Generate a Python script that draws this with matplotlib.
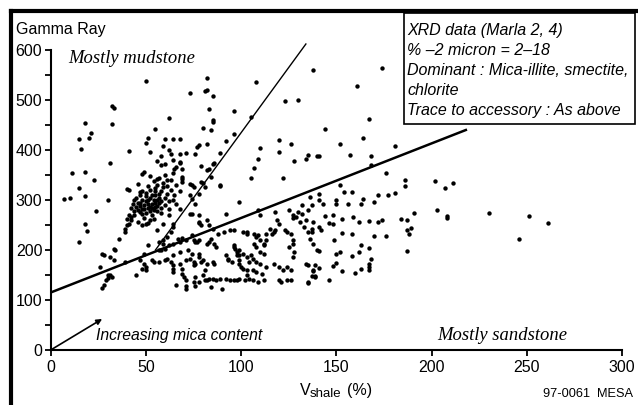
import numpy as np
import matplotlib
matplotlib.use("Agg")
import matplotlib.pyplot as plt
from matplotlib.lines import Line2D
from matplotlib.patches import Rectangle

# --- data: (V shale %, gamma ray API) ---
upper_left_pts = [
    (50, 539), (82, 545), (81, 519), (82, 521), (73, 515), (85, 509), (32, 489), (33, 484),
    (62, 464), (83, 482), (96, 478), (85, 461), (85, 457), (80, 445), (84, 440), (18, 455),
    (32, 453), (21, 435), (20, 425), (15, 422), (16, 402), (11, 355), (18, 357), (23, 341),
    (15, 325), (18, 308), (31, 374), (41, 398), (40, 323), (41, 320), (30, 300), (7, 302),
    (10, 305),
]
cluster_top_pts = [
    (55, 443), (51, 425), (50, 415), (52, 397), (60, 423), (64, 423), (68, 423), (59, 408),
    (62, 401), (63, 393), (58, 389), (64, 381), (56, 379), (58, 371), (60, 373), (65, 363),
    (49, 357), (52, 348), (56, 343), (48, 353), (46, 333), (47, 317), (64, 355), (69, 343),
    (69, 337), (61, 340), (68, 392), (68, 377), (68, 375), (66, 367), (69, 362), (71, 395),
    (69, 347),
]
cluster_pts = [
    (44, 300), (46, 295), (47, 288), (48, 282), (49, 290), (50, 298), (51, 285), (52, 278),
    (53, 292), (54, 300), (55, 286), (50, 275), (48, 272), (46, 280), (45, 287), (52, 305),
    (55, 310), (57, 295), (58, 285), (56, 278), (53, 270), (49, 265), (47, 310), (50, 315),
    (52, 320), (55, 325), (58, 318), (60, 305), (62, 298), (60, 290), (62, 282), (58, 275),
    (54, 262), (51, 255), (56, 330), (59, 335), (61, 328), (63, 320), (65, 310), (64, 300),
    (66, 292), (44, 278), (43, 292), (45, 305), (48, 318), (51, 328), (54, 338), (57, 345),
    (60, 350), (63, 340), (66, 330), (68, 318), (48, 300), (51, 292), (53, 284), (56, 300),
    (57, 312), (42, 285), (41, 270), (40, 262), (47, 295), (49, 283), (51, 300), (53, 310),
    (55, 295), (56, 288), (58, 298), (50, 308), (52, 287), (54, 280), (47, 276), (55, 318),
    (59, 327), (61, 313), (57, 305),
]
between_lines_pts = [
    (77, 407), (78, 410), (76, 393), (82, 412), (89, 395), (92, 419), (96, 433), (79, 369),
    (82, 361), (83, 363), (86, 375), (84, 347), (74, 330), (75, 327), (80, 335), (81, 327),
    (78, 313), (74, 303), (89, 330), (85, 373), (108, 537), (105, 467), (110, 405), (109, 383),
    (107, 365), (105, 345), (123, 498), (130, 501), (138, 561), (120, 421), (120, 397),
    (122, 345), (126, 412), (128, 379), (134, 382), (140, 389), (73, 333), (79, 337), (89, 328),
    (73, 310), (76, 293), (99, 297), (68, 283), (73, 273), (74, 272), (78, 270), (82, 260),
    (78, 255), (92, 272), (109, 280), (110, 270), (118, 277), (125, 280), (127, 270), (127, 265),
]
upper_right_pts = [
    (174, 565), (161, 529), (167, 462), (144, 442), (152, 413), (164, 425), (181, 409),
    (135, 390), (141, 389), (157, 391), (168, 389), (168, 370), (176, 355), (186, 341),
    (186, 328), (202, 338), (207, 325), (211, 335), (152, 330), (154, 317), (158, 317),
    (172, 310), (177, 311), (181, 315), (136, 307), (141, 313), (141, 300), (143, 293),
    (132, 290), (135, 280), (132, 273), (137, 290), (150, 300), (150, 293), (156, 293),
    (164, 303), (163, 292), (170, 297), (134, 260), (138, 257), (137, 243), (137, 237),
    (141, 247), (142, 241), (144, 268), (148, 270), (146, 255), (148, 253), (153, 263),
    (159, 267), (162, 257), (167, 258), (172, 257), (174, 260), (153, 235), (158, 232),
    (170, 228), (176, 229), (184, 263), (187, 260), (191, 275), (187, 240), (188, 232),
    (189, 245), (203, 280), (208, 265), (208, 268), (230, 275), (251, 268), (261, 255),
    (246, 222),
]
lower_right_pts = [
    (149, 220), (141, 199), (150, 192), (152, 197), (158, 189), (162, 197), (163, 210),
    (167, 205), (168, 183), (187, 198), (134, 172), (139, 170), (141, 165), (138, 159),
    (137, 148), (139, 148), (135, 135), (148, 169), (150, 175), (153, 159), (146, 140),
    (160, 155), (163, 163), (167, 173), (167, 167), (167, 161),
]
lower_left_pts = [
    (15, 217), (18, 252), (19, 238), (24, 279), (27, 193), (28, 190), (26, 167), (30, 150),
    (29, 140), (28, 130), (27, 125), (32, 147), (33, 203), (34, 200), (31, 187), (33, 181),
    (39, 177), (45, 150), (36, 223), (39, 237), (39, 243), (40, 250), (41, 253), (42, 260),
    (42, 267), (44, 270), (46, 257), (48, 250), (50, 253), (52, 260), (56, 240), (59, 253),
    (62, 270), (47, 180), (49, 173), (50, 167), (49, 193), (51, 210), (54, 177), (57, 177),
    (57, 200), (59, 213), (61, 182), (64, 190), (63, 177), (64, 170), (64, 163), (64, 157),
    (61, 227), (63, 237), (64, 247), (64, 253), (57, 217), (59, 220), (58, 200), (60, 203),
    (62, 210), (64, 213), (53, 180), (60, 180), (48, 163), (50, 160), (31, 150), (30, 145),
]
middle_pts = [
    (66, 130), (70, 147), (71, 140), (71, 128), (71, 123), (69, 153), (69, 163), (68, 173),
    (68, 217), (69, 225), (71, 220), (74, 230), (75, 221), (76, 217), (72, 200), (74, 193),
    (73, 183), (75, 177), (75, 170), (76, 147), (75, 137), (76, 128), (78, 137), (80, 150),
    (81, 140), (83, 143), (84, 127), (78, 187), (79, 177), (82, 173), (85, 177), (86, 173),
    (78, 220), (82, 213), (84, 223), (87, 207), (88, 233), (91, 237), (94, 240), (96, 241),
    (78, 257), (79, 250), (83, 250), (85, 243), (85, 143), (87, 140), (90, 123), (89, 143),
    (92, 143), (94, 140), (96, 141), (98, 140), (99, 143), (92, 190), (93, 183), (95, 177),
    (96, 207), (97, 203), (98, 197), (99, 200), (99, 190), (99, 173), (100, 167), (101, 193),
    (103, 187), (104, 177), (105, 190), (103, 150), (104, 143), (106, 140), (109, 137),
    (112, 140), (103, 237), (107, 233), (109, 230), (110, 220), (112, 213), (107, 213),
    (108, 207), (110, 197), (112, 193), (106, 183), (108, 177), (110, 173), (113, 233),
    (115, 243), (117, 237), (119, 260), (120, 253), (123, 240), (124, 237), (113, 167),
    (117, 173), (120, 167), (122, 160), (124, 167), (126, 160), (120, 140), (121, 137),
    (124, 140), (126, 140), (129, 267), (130, 277), (131, 257), (133, 247), (135, 237),
    (136, 223), (138, 213), (140, 200), (127, 213), (128, 197), (127, 187), (135, 170),
    (138, 160), (139, 147), (135, 137), (67, 223), (68, 197), (71, 180), (76, 173), (78, 193),
    (80, 180), (81, 160), (82, 140), (86, 213), (83, 217), (77, 217), (93, 180), (96, 210),
    (98, 190), (99, 180), (101, 163), (103, 160), (106, 160), (108, 157), (111, 153),
    (102, 140), (101, 237), (103, 233), (108, 227), (113, 220), (112, 210), (116, 233),
    (118, 240), (126, 233), (127, 220), (125, 207),
]

# guide lines and arrow
steep_x = [55, 134]
steep_y = [200, 612]
trend_x = [0, 218]
trend_y = [115, 440]
arrow_start = (0, 0)
arrow_end = (27, 62)

box_lines = [
    "XRD data (Marla 2, 4)",
    "% \u20132 micron = 2\u201318",
    "Dominant : Mica-illite, smectite,",
    "chlorite",
    "Trace to accessory : As above",
]

all_pts = (upper_left_pts + cluster_top_pts + cluster_pts + between_lines_pts +
           upper_right_pts + lower_right_pts + lower_left_pts + middle_pts)
vshale = np.array([p[0] for p in all_pts])
gamma = np.array([p[1] for p in all_pts])

W, H = 638, 405
plt.rcParams["font.family"] = ["Liberation Sans", "DejaVu Sans"]

fig = plt.figure(figsize=(W / 100, H / 100), dpi=100)
ax = fig.add_axes([50.7 / W, 55 / H, 571.3 / W, 310 / H])


def fx(px):
    return px / W


def fy(py):
    return 1 - py / H


ax.scatter(vshale, gamma, s=10, color="black", linewidths=0, zorder=3)
ax.plot(steep_x, steep_y, color="black", lw=1.0)
ax.plot(trend_x, trend_y, color="black", lw=1.8)
ax.annotate("", xy=arrow_end, xytext=arrow_start,
            arrowprops=dict(arrowstyle="-|>", color="black", lw=1.2,
                            mutation_scale=8, shrinkA=0, shrinkB=0))

ax.set_xlim(0, 300)
ax.set_ylim(0, 620)
ax.set_xticks(range(0, 301, 50))
ax.set_yticks(range(0, 601, 100))
ax.set_yticks(range(50, 600, 100), minor=True)
for s in ["top", "right"]:
    ax.spines[s].set_visible(False)
ax.spines["left"].set_bounds(0, 600)
ax.spines["bottom"].set_bounds(0, 300)
for s in ["left", "bottom"]:
    ax.spines[s].set_linewidth(1.5)
ax.tick_params(which="both", direction="out", length=4, width=1.3,
               labelsize=11.5, pad=2)
ax.tick_params(axis="x", pad=3)
ax.set_facecolor("none")

# annotations
fig.text(fx(16), fy(34), "Gamma Ray", fontsize=11.5, va="baseline")
fig.text(fx(68), fy(63), "Mostly mudstone", fontsize=13.4, style="italic",
         family="Liberation Serif", va="baseline")
fig.text(fx(437), fy(340), "Mostly sandstone", fontsize=13.4, style="italic",
         family="Liberation Serif", va="baseline")
fig.text(fx(96), fy(340), "Increasing mica content", fontsize=11.3,
         style="italic", va="baseline")
fig.text(fx(300), fy(395), "V", fontsize=11.5, va="baseline")
fig.text(fx(310), fy(397), "shale", fontsize=9.5, va="baseline")
fig.text(fx(347), fy(395), "(%)", fontsize=11.5, va="baseline")
fig.text(fx(633), fy(397), "97-0061  MESA", fontsize=9.2, ha="right",
         va="baseline")

# info box
fig.add_artist(Rectangle((fx(404), fy(124)), fx(635) - fx(404), fy(13) - fy(124),
                         transform=fig.transFigure, fill=False, lw=1.2,
                         edgecolor="black"))
for i, line in enumerate(box_lines):
    fig.text(fx(407), fy(35 + i * 20), line, fontsize=11.5, style="italic",
             va="baseline")

# frame around the figure (left and top only)
fig.add_artist(Line2D([fx(10.5), fx(10.5)], [0, fy(10.5)], color="black",
                      lw=3, transform=fig.transFigure, solid_capstyle="projecting"))
fig.add_artist(Line2D([fx(10.5), 1], [fy(10.5), fy(10.5)], color="black",
                      lw=3, transform=fig.transFigure, solid_capstyle="projecting"))

fig.savefig("out.png", dpi=100)
